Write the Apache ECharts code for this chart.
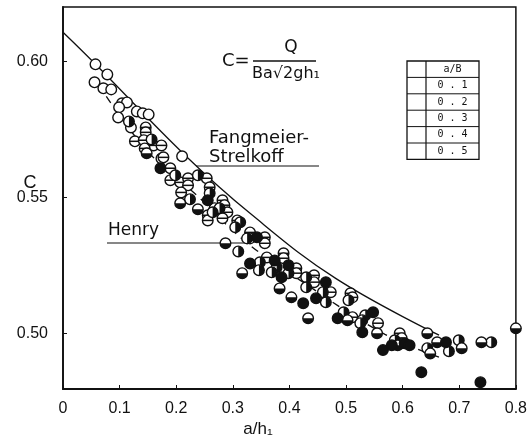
<!DOCTYPE html>
<html>
<head>
<meta charset="utf-8">
<script src="https://cdn.jsdelivr.net/npm/echarts@6/dist/echarts.min.js"></script>
<style>
  html, body { margin: 0; padding: 0; background: #fff; }
  #chart { width: 530px; height: 439px; }
</style>
</head>
<body>
<div id="chart"></div>
<script>
// Discharge coefficient C versus relative gate opening a/h1, grouped by a/B.
const xTicks = [0, 0.1, 0.2, 0.3, 0.4, 0.5, 0.6, 0.7, 0.8];
const yTicks = [0.50, 0.55, 0.60];
const ratioLabels = ['0.1', '0.2', '0.3', '0.4', '0.5'];

// Fangmeier–Strelkoff theoretical curve
const fangmeierCurve = [
  [0, 0.6107], [0.0557, 0.5993], [0.2174, 0.5651], [0.3304, 0.5441],
  [0.4817, 0.5202], [0.6643, 0.4993]
];
// Henry curve
const henryCurve = [
  [0.0765, 0.5871], [0.1513, 0.5665], [0.2383, 0.5504], [0.3217, 0.5338],
  [0.4296, 0.5180], [0.5687, 0.4996], [0.6643, 0.4912]
];

// Measurements, a/B = 0.1
const ratio01 = [
  [0.0574, 0.5989], [0.0783, 0.5952], [0.0557, 0.5923], [0.0713, 0.5901],
  [0.0852, 0.5897], [0.1043, 0.5846], [0.1130, 0.5849], [0.1304, 0.5816],
  [0.1409, 0.5809], [0.1513, 0.5805], [0.0991, 0.5831], [0.0974, 0.5794],
  [0.1200, 0.5757], [0.1739, 0.5643], [0.2104, 0.5651]
];
// a/B = 0.2
const ratio02 = [
  [0.1461, 0.5757], [0.1461, 0.5739], [0.1270, 0.5706], [0.1426, 0.5710],
  [0.1600, 0.5691], [0.1739, 0.5691], [0.1443, 0.5680], [0.1774, 0.5647],
  [0.1896, 0.5607], [0.1896, 0.5563], [0.2070, 0.5555], [0.2209, 0.5570],
  [0.2209, 0.5544], [0.2539, 0.5570], [0.2087, 0.5518], [0.2591, 0.5537],
  [0.2678, 0.5460], [0.2817, 0.5489], [0.2852, 0.5471], [0.2904, 0.5445],
  [0.2557, 0.5434], [0.2557, 0.5415], [0.2817, 0.5423], [0.3078, 0.5415],
  [0.3304, 0.5371], [0.3304, 0.5349], [0.3565, 0.5353], [0.3565, 0.5331],
  [0.3600, 0.5279], [0.3896, 0.5294], [0.3896, 0.5276], [0.4122, 0.5239],
  [0.4122, 0.5221], [0.4435, 0.5213], [0.4435, 0.5188], [0.4730, 0.5151],
  [0.5078, 0.5147], [0.5113, 0.5132], [0.5113, 0.5059], [0.5565, 0.5037],
  [0.5948, 0.5000], [0.5983, 0.4982], [0.5983, 0.4963]
];
// a/B = 0.3
const ratio03 = [
  [0.1165, 0.5779], [0.1565, 0.5713], [0.1983, 0.5581], [0.2383, 0.5581],
  [0.2243, 0.5493], [0.2591, 0.5515], [0.2765, 0.5460], [0.2643, 0.5445],
  [0.3130, 0.5408], [0.3043, 0.5390], [0.3252, 0.5349], [0.3096, 0.5301],
  [0.3478, 0.5261], [0.3774, 0.5243], [0.3687, 0.5224], [0.3983, 0.5221],
  [0.4296, 0.5206], [0.4296, 0.5169], [0.4643, 0.5114], [0.4591, 0.5151],
  [0.5043, 0.5121], [0.4957, 0.5077], [0.5339, 0.5066], [0.5287, 0.5048],
  [0.5252, 0.5037], [0.5861, 0.4974], [0.6435, 0.4945], [0.6817, 0.4934],
  [0.6991, 0.4974], [0.7565, 0.4967], [0.3461, 0.5232]
];
// a/B = 0.4
const ratio04 = [
  [0.1478, 0.5662], [0.2070, 0.5478], [0.2383, 0.5456], [0.2870, 0.5331],
  [0.3165, 0.5221], [0.3826, 0.5165], [0.4035, 0.5132], [0.4330, 0.5055],
  [0.5026, 0.5048], [0.5548, 0.5000], [0.5913, 0.4956], [0.6435, 0.5000],
  [0.6609, 0.4967], [0.6487, 0.4926], [0.7043, 0.4945], [0.7391, 0.4967],
  [0.8000, 0.5018]
];
// a/B = 0.5
const ratio05 = [
  [0.1722, 0.5607], [0.2557, 0.5489], [0.3426, 0.5353], [0.3304, 0.5257],
  [0.3739, 0.5268], [0.3983, 0.5250], [0.3861, 0.5206], [0.4643, 0.5188],
  [0.4243, 0.5110], [0.4470, 0.5129], [0.4852, 0.5055], [0.5478, 0.5077],
  [0.5287, 0.5004], [0.5652, 0.4938], [0.5809, 0.4956], [0.6035, 0.4963],
  [0.6122, 0.4956], [0.6765, 0.4967], [0.6330, 0.4857], [0.7374, 0.4820]
];

const R = 5.3;
const INK = '#111';

// One marker: circle, optionally with a bar or a filled half
function markerShapes(kind, cx, cy, r) {
  const shapes = [{
    type: 'circle',
    shape: { cx: cx, cy: cy, r: r },
    style: { fill: kind === 5 ? INK : '#fff', stroke: INK, lineWidth: 1.4 }
  }];
  if (kind === 2) {
    shapes.push({ type: 'line', shape: { x1: cx - r, y1: cy, x2: cx + r, y2: cy },
      style: { stroke: INK, lineWidth: 1.5 } });
  } else if (kind === 3) {
    shapes.push({ type: 'sector', shape: { cx: cx, cy: cy, r: r, r0: 0,
      startAngle: -Math.PI / 2, endAngle: Math.PI / 2 }, style: { fill: INK } });
  } else if (kind === 4) {
    shapes.push({ type: 'sector', shape: { cx: cx, cy: cy, r: r, r0: 0,
      startAngle: 0, endAngle: Math.PI }, style: { fill: INK } });
  }
  return shapes;
}

function markerSeries(data, kind) {
  return {
    type: 'custom',
    data: data,
    clip: false,
    z: 3,
    encode: { x: 0, y: 1 },
    renderItem: function (params, api) {
      const p = api.coord([api.value(0), api.value(1)]);
      return { type: 'group', children: markerShapes(kind, p[0], p[1], R) };
    }
  };
}

// Legend table (a/B)
const tbl = { x0: 407, x1: 479, xc: 426, y0: 61, row: 16.4 };
const legendGraphics = [];
legendGraphics.push({ type: 'rect', shape: { x: tbl.x0, y: tbl.y0, width: tbl.x1 - tbl.x0, height: tbl.row * 6 },
  style: { fill: '#fff', stroke: INK, lineWidth: 1.3 }, z: 10 });
legendGraphics.push({ type: 'line', shape: { x1: tbl.xc, y1: tbl.y0, x2: tbl.xc, y2: tbl.y0 + tbl.row * 6 },
  style: { stroke: INK, lineWidth: 1.2 }, z: 10 });
for (let i = 1; i < 6; i++) {
  legendGraphics.push({ type: 'line', shape: { x1: tbl.x0, y1: tbl.y0 + tbl.row * i, x2: tbl.x1, y2: tbl.y0 + tbl.row * i },
    style: { stroke: INK, lineWidth: 1 }, z: 10 });
}
legendGraphics.push({ type: 'text', x: (tbl.xc + tbl.x1) / 2, y: tbl.y0 + tbl.row / 2, z: 11,
  style: { text: 'a/B', fill: INK, font: '10px "DejaVu Sans Mono"', align: 'center', verticalAlign: 'middle' } });
ratioLabels.forEach(function (lbl, i) {
  const cy = tbl.y0 + tbl.row * (i + 1.5);
  legendGraphics.push({ type: 'text', x: (tbl.xc + tbl.x1) / 2, y: cy, z: 11,
    style: { text: lbl.split('').join(' '), fill: INK, font: '10px "DejaVu Sans Mono"', align: 'center', verticalAlign: 'middle' } });
  legendGraphics.push({ type: 'group', z: 11, children: markerShapes(i + 1, (tbl.x0 + tbl.xc) / 2, cy, 4) });
});

const chart = echarts.init(document.getElementById('chart'), null, { renderer: 'canvas' });
const FONT = '"Liberation Sans", "DejaVu Sans", sans-serif';
const NOTE_FONT = '"DejaVu Sans", sans-serif';

chart.setOption({
  backgroundColor: '#fff',
  animation: false,
  grid: { left: 63, right: 7, top: 7, bottom: 50, show: true, borderColor: INK, borderWidth: 1.5 },
  xAxis: {
    type: 'value', min: 0, max: 0.8, interval: 0.1,
    axisLine: { lineStyle: { color: INK, width: 1.8 } },
    axisTick: { inside: true, length: 4, lineStyle: { color: INK } },
    axisLabel: { color: INK, fontSize: 16, fontFamily: FONT, margin: 12,
      customValues: xTicks,
      formatter: function (v) { return v === 0 ? '0' : v.toFixed(1); } },
    splitLine: { show: false }
  },
  yAxis: {
    type: 'value', min: 0.4795, max: 0.62,
    axisLine: { show: true, lineStyle: { color: INK, width: 1.8 } },
    axisTick: { show: true, inside: true, length: 4, customValues: yTicks, lineStyle: { color: INK } },
    axisLabel: { color: INK, fontSize: 16, fontFamily: FONT, margin: 15,
      customValues: yTicks,
      formatter: function (v) { return v.toFixed(2); } },
    splitLine: { show: false }
  },
  series: [
    { type: 'line', data: fangmeierCurve, smooth: 0.4, symbol: 'none', z: 2,
      lineStyle: { color: INK, width: 1.3 } },
    { type: 'line', data: henryCurve, smooth: 0.4, symbol: 'none', z: 2,
      lineStyle: { color: INK, width: 1.3, type: [8, 6] } },
    markerSeries(ratio01, 1),
    markerSeries(ratio02, 2),
    markerSeries(ratio03, 3),
    markerSeries(ratio04, 4),
    markerSeries(ratio05, 5)
  ],
  graphic: [
    // axis titles
    { type: 'text', x: 30, y: 183, style: { text: 'C', fill: INK, font: '18px ' + FONT, align: 'center', verticalAlign: 'middle' } },
    { type: 'text', x: 258, y: 429, style: { text: 'a/h\u2081', fill: INK, font: '17px ' + FONT, align: 'center', verticalAlign: 'middle' } },
    // definition of C
    { type: 'text', x: 222, y: 61, style: { text: 'C=', fill: INK, font: '18px ' + NOTE_FONT, verticalAlign: 'middle' } },
    { type: 'text', x: 291, y: 48, style: { text: 'Q', fill: INK, font: '17px ' + NOTE_FONT, align: 'center', verticalAlign: 'middle' } },
    { type: 'line', shape: { x1: 253, y1: 61, x2: 316, y2: 61 }, style: { stroke: INK, lineWidth: 1.4 } },
    { type: 'text', x: 286, y: 74, style: { text: 'Ba\u221A2gh\u2081', fill: INK, font: '16px ' + NOTE_FONT, align: 'center', verticalAlign: 'middle' } },
    // curve annotations
    { type: 'text', x: 209, y: 138, style: { text: 'Fangmeier-', fill: INK, font: '18px ' + NOTE_FONT, verticalAlign: 'middle' } },
    { type: 'text', x: 209, y: 157, style: { text: 'Strelkoff', fill: INK, font: '18px ' + NOTE_FONT, verticalAlign: 'middle' } },
    { type: 'line', shape: { x1: 196, y1: 166, x2: 319, y2: 166 }, style: { stroke: INK, lineWidth: 1.2 } },
    { type: 'text', x: 108, y: 231, style: { text: 'Henry', fill: INK, font: '17px ' + NOTE_FONT, verticalAlign: 'middle' } },
    { type: 'line', shape: { x1: 107, y1: 243, x2: 250, y2: 243 }, style: { stroke: INK, lineWidth: 1.2 } }
  ].concat(legendGraphics)
});
</script>
</body>
</html>
